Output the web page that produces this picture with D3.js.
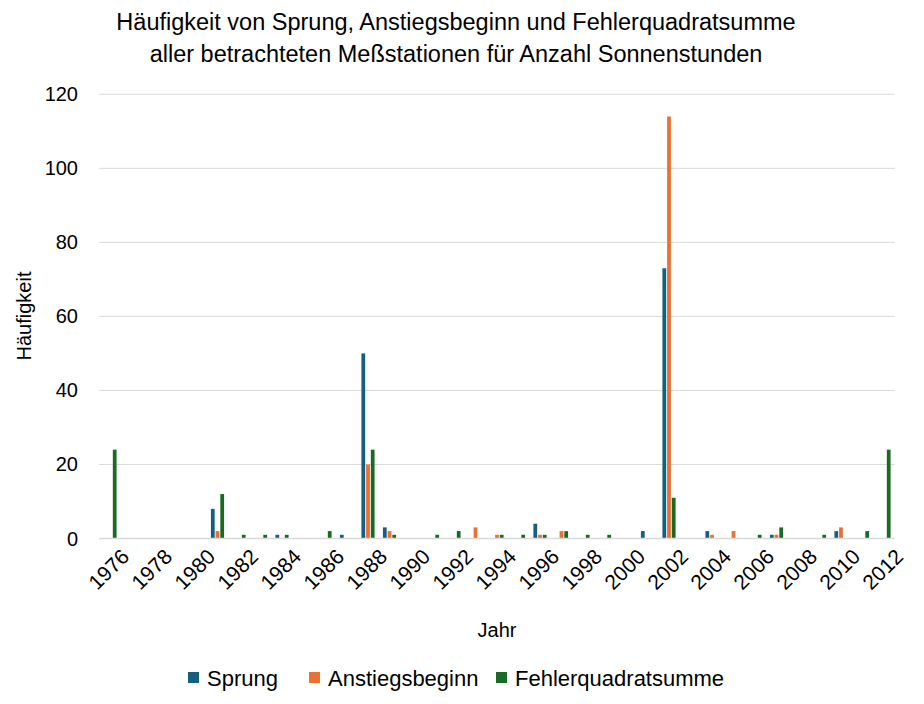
<!DOCTYPE html>
<html>
<head>
<meta charset="utf-8">
<script src="https://cdn.jsdelivr.net/npm/d3@7"></script>
<style>
  body { margin: 0; background: #fff; }
  text { font-family: "Liberation Sans", Arial, sans-serif; fill: #000; }
</style>
</head>
<body>
<svg id="chart" width="924" height="704"></svg>
<script>
// Jahre 1976..2012
var years = ["1976","1977","1978","1979","1980","1981","1982","1983","1984","1985",
  "1986","1987","1988","1989","1990","1991","1992","1993","1994","1995",
  "1996","1997","1998","1999","2000","2001","2002","2003","2004","2005",
  "2006","2007","2008","2009","2010","2011","2012"];

var seriesNames = ["Sprung", "Anstiegsbeginn", "Fehlerquadratsumme"];
var seriesColors = ["#156082", "#E97132", "#196B24"];

var sprung = [0,0,0,0,0,8,0,0,1,0, 0,1,50,3,0,0,0,0,0,0, 4,0,0,0,0,2,73,0,2,0, 0,1,0,0,2,0,0];
var anstieg = [0,0,0,0,0,2,0,0,0,0, 0,0,20,2,0,0,0,3,1,0, 1,2,0,0,0,0,114,0,1,2, 0,1,0,0,3,0,0];
var fehler = [24,0,0,0,0,12,1,1,1,0, 2,0,24,1,0,1,2,0,1,1, 1,2,1,1,0,0,11,0,0,0, 1,3,0,1,0,2,24];

var yTicks = [0, 20, 40, 60, 80, 100, 120];
var xTickLabels = years.filter(function(d, i) { return i % 2 === 0; });

function drawChart() {
  var svg = d3.select('#chart');

  var plotLeft = 99.25, plotRight = 894.75, plotTop = 94.3, plotBottom = 538.5;

  var x = d3.scaleBand()
    .domain(years)
    .range([plotLeft, plotRight])
    .paddingInner(0.3)
    .paddingOuter(0.15);

  var x1 = d3.scaleBand()
    .domain(seriesNames)
    .range([0, x.bandwidth()])
    .padding(0.2);

  var y = d3.scaleLinear()
    .domain([0, 120])
    .range([plotBottom, plotTop]);

  // gridlines
  svg.append('g')
    .selectAll('line')
    .data(yTicks.slice(1))
    .enter()
    .append('line')
    .attr('x1', plotLeft).attr('x2', plotRight)
    .attr('y1', function(d) { return y(d); })
    .attr('y2', function(d) { return y(d); })
    .attr('stroke', '#d9d9d9')
    .attr('stroke-width', 1);

  // y axis labels
  svg.append('g')
    .selectAll('text')
    .data(yTicks)
    .enter()
    .append('text')
    .attr('x', 78)
    .attr('y', function(d) { return y(d); })
    .attr('dy', '0.35em')
    .attr('text-anchor', 'end')
    .style('font-size', '20px')
    .text(function(d) { return d; });

  // bars
  var rows = years.map(function(yr, i) {
    return { year: yr, values: [sprung[i], anstieg[i], fehler[i]] };
  });

  var groups = svg.append('g')
    .selectAll('g')
    .data(rows)
    .enter()
    .append('g')
    .attr('transform', function(d) { return 'translate(' + x(d.year) + ',0)'; });

  groups.selectAll('rect')
    .data(function(d) {
      return d.values
        .map(function(v, k) { return { name: seriesNames[k], value: v, k: k }; })
        .filter(function(e) { return e.value > 0; });
    })
    .enter()
    .append('rect')
    .attr('x', function(d) { return x1(d.name); })
    .attr('width', x1.bandwidth())
    .attr('y', function(d) { return y(d.value); })
    .attr('height', function(d) { return y(0) - y(d.value); })
    .attr('fill', function(d) { return seriesColors[d.k]; });

  // x axis line
  svg.append('line')
    .attr('x1', plotLeft).attr('x2', plotRight)
    .attr('y1', y(0)).attr('y2', y(0))
    .attr('stroke', '#d9d9d9')
    .attr('stroke-width', 1.5);

  // x tick labels, rotated
  svg.append('g')
    .selectAll('text')
    .data(xTickLabels)
    .enter()
    .append('text')
    .attr('transform', function(d) {
      var cx = x(d) + x.bandwidth() / 2 + 10;
      return 'translate(' + cx + ',' + (y(0) + 9) + ') rotate(-45)';
    })
    .attr('text-anchor', 'end')
    .attr('dy', '0.7em')
    .style('font-size', '21px')
    .text(function(d) { return d; });

  // titles
  var title = svg.append('text')
    .attr('text-anchor', 'middle')
    .style('font-size', '23.5px');
  title.append('tspan').attr('x', 456).attr('y', 30)
    .text('Häufigkeit von Sprung, Anstiegsbeginn und Fehlerquadratsumme');
  title.append('tspan').attr('x', 456).attr('y', 62)
    .text('aller betrachteten Meßstationen für Anzahl Sonnenstunden');

  svg.append('text')
    .attr('transform', 'translate(31,316) rotate(-90)')
    .attr('text-anchor', 'middle')
    .style('font-size', '20px')
    .text('Häufigkeit');

  svg.append('text')
    .attr('x', 497).attr('y', 637)
    .attr('text-anchor', 'middle')
    .style('font-size', '20px')
    .text('Jahr');

  // legend
  var legendX = [188, 309, 496];
  var legend = svg.append('g')
    .selectAll('g')
    .data(seriesNames)
    .enter()
    .append('g')
    .attr('transform', function(d, i) { return 'translate(' + legendX[i] + ',672)'; });

  legend.append('rect')
    .attr('width', 11).attr('height', 11)
    .attr('fill', function(d, i) { return seriesColors[i]; });

  legend.append('text')
    .attr('x', 19).attr('y', 6)
    .attr('dy', '0.35em')
    .style('font-size', '22px')
    .text(function(d) { return d; });
}

drawChart();
</script>
</body>
</html>
